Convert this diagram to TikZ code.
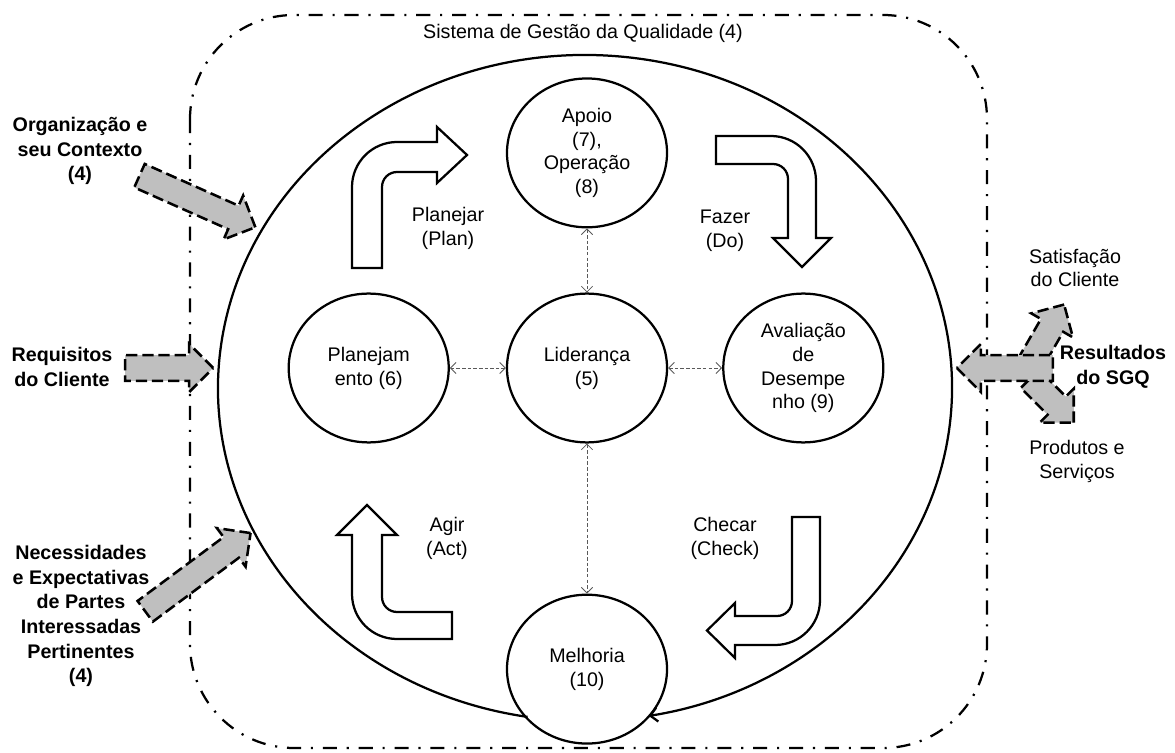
\documentclass[tikz,border=0pt]{standalone}
\usepackage{fontspec}
\setmainfont{Liberation Sans}
\usetikzlibrary{positioning,shapes.geometric,shapes.arrows,arrows.meta}
\tikzset{
    etapa/.style={
        ellipse,
        draw=black,
        line width=1.6pt,
        minimum width=4cm,
        minimum height=3.72cm,
        inner sep=0pt,
        align=center,
        font=\fontsize{14}{17}\selectfont
    },
    liga/.style={
        <->,
        >={Straight Barb[length=4pt,width=8pt]},
        black!65,
        line width=0.6pt,
        dash pattern=on 2.5pt off 1.5pt
    },
    ciclo/.style={
        ->,
        >={Straight Barb[length=5pt,width=10pt]},
        line width=1.6pt
    },
    setabranca/.style={draw=black, fill=white, line width=1.6pt},
    setacinza/.style={single arrow, draw=black, fill=gray!50, line width=1.8pt,
        dash pattern=on 8pt off 3.5pt, inner xsep=0pt, inner ysep=0.29cm,
        single arrow head extend=0.28cm},
    moldura/.style={line width=1.6pt, rounded corners=2.6cm,
        dash pattern=on 10pt off 7pt on 1.5pt off 7pt},
    rotulo/.style={align=center, font=\fontsize{14}{17}\selectfont},
    entrada/.style={align=center, font=\bfseries\fontsize{14}{17.5}\selectfont}
}

\begin{document}
\begin{tikzpicture}[x=0.025cm, y=-0.025cm]
    \useasboundingbox (0,0) rectangle (1175,753);
    % moldura do sistema
    \draw[moldura] (190,15) rectangle (987,748);
    \node (titulo) [rotulo] at (583,33) {Sistema de Gestão da Qualidade (4)};

    % etapas
    \node (lider) [etapa] at (587,368) {Liderança\\(5)};
    \node (apoio) [etapa, above=1.6cm of lider] {Apoio\\(7),\\Operação\\(8)};
    \node (planej) [etapa, left=1.4cm of lider] {Planejam\\ento (6)};
    \node (aval) [etapa, right=1.35cm of lider] {Avaliação\\de\\Desempe\\nho (9)};
    \node (melhoria) [etapa, below=3.75cm of lider] {Melhoria\\(10)};
    \draw[liga] (apoio) -- (lider);
    \draw[liga] (planej) -- (lider);
    \draw[liga] (lider) -- (aval);
    \draw[liga] (lider) -- (melhoria);

    % ciclo PDCA
    \draw[ciclo] (585,388) ++(99:367 and 333) arc[start angle=99, end angle=440, x radius=367, y radius=333];

    \draw[setabranca] (352,268) -- (352,187) .. controls (352,162.2) and (372.2,142) .. (397,142) -- (437,142) -- (437,127) -- (467,155) -- (437,183) -- (437,172) -- (397,172) .. controls (388.7,172) and (382,178.7) .. (382,187) -- (382,268) -- cycle;
    \draw[setabranca] (716,136) -- (771,136) .. controls (795.8,136) and (816,156.2) .. (816,181) -- (816,238) -- (831,238) -- (802,267) -- (773,238) -- (788,238) -- (788,179) .. controls (788,170.7) and (781.3,164) .. (773,164) -- (716,164) -- cycle;
    \draw[setabranca] (792,517) -- (820,517) -- (820,600) .. controls (820,624.9) and (799.9,645) .. (775,645) -- (735,645) -- (735,658) -- (707,630.5) -- (735,603) -- (735,616) -- (777,616) .. controls (785.3,616) and (792,609.3) .. (792,601) -- cycle;
    \draw[setabranca] (452,612) -- (397,612) .. controls (388.7,612) and (382,605.3) .. (382,597) -- (382,535) -- (397,535) -- (367,505) -- (337,535) -- (352,535) -- (352,594) .. controls (352,618.9) and (372.1,639) .. (397,639) -- (452,639) -- cycle;
    \node (planejar) [rotulo] at (448,228) {Planejar\\(Plan)};
    \node (fazer) [rotulo] at (725,231) {Fazer\\(Do)};
    \node (checar) [rotulo] at (725,538) {Checar\\(Check)};
    \node (agir) [rotulo] at (447,538) {Agir\\(Act)};

    % entradas
    \node (orgSeta) [setacinza, minimum height=3.17cm, rotate=-24, anchor=tip] at (257,228) {};
    \node (reqSeta) [setacinza, minimum height=2.2cm, anchor=tip] at (215,368) {};
    \node (necSeta) [setacinza, minimum height=3.28cm, rotate=36.6, anchor=tip] at (252,532) {};
    \node (orgTexto) [entrada] at (80,151) {Organização e\\seu Contexto\\(4)};
    \node (reqTexto) [entrada] at (62,367) {Requisitos\\do Cliente};
    \node (necTexto) [entrada] at (81,616) {Necessidades\\e Expectativas\\de Partes\\Interessadas\\Pertinentes\\(4)};

    % saidas
    \node (prodSeta) [setacinza, minimum height=1.55cm, rotate=-45, anchor=tip] at (1075,424) {};
    \node (satSeta) [setacinza, minimum height=1.75cm, rotate=60, anchor=tip] at (1065,303) {};
    \node (resSeta) [setacinza, minimum height=2.4cm, rotate=180, anchor=tip] at (955,368) {};
    \node (resTexto) [entrada] at (1113,367) {Resultados\\do SGQ};
    \node (satTexto) [rotulo] at (1075,268) {Satisfação\\do Cliente};
    \node (prodTexto) [rotulo] at (1077,461) {Produtos e\\Serviços};
\end{tikzpicture}
\end{document}
